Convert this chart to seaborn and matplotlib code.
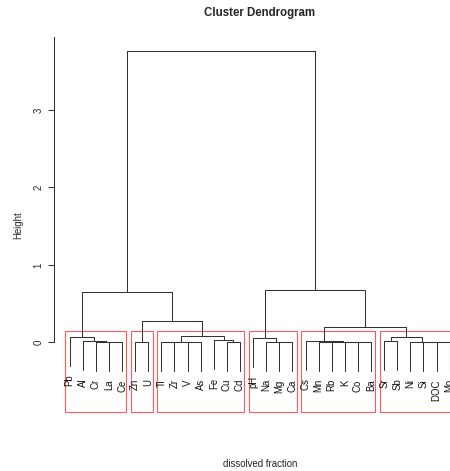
import numpy as np
import pandas as pd
import matplotlib
matplotlib.use("Agg")
import matplotlib.pyplot as plt
from matplotlib.patches import Rectangle
import seaborn as sns

# leaf order as drawn, left to right
labels = ["Pb", "Al", "Cr", "La", "Ce", "Zn", "U", "Ti", "Zr", "V", "As", "Fe", "Cu", "Cd",
          "pH", "Na", "Mg", "Ca", "Cs", "Mn", "Rb", "K", "Co", "Ba",
          "Sr", "Sb", "Ni", "Si", "DOC", "Mo"]

# merges: left child, right child (leaf name or earlier merge index), height
merge_left = ["La", "Cr", "Al", "Pb", "Zn", "Ti", "V", 5, "Cu", "Fe", 7, 4, 3,
              "Mg", "Na", "pH", "Mn", "K", 17, 16, "Cs", "Sr", "DOC", "Si", "Ni", 21, 20, 15, 12]
merge_right = ["Ce", 0, 1, 2, "U", "Zr", "As", 6, "Cd", 8, 9, 10, 11,
               "Ca", 13, 14, "Rb", "Co", "Ba", 18, 19, "Sb", "Mo", 22, 23, 24, 25, 26, 27]
merge_height = [0.002, 0.005, 0.012, 0.065, 0.008, 0.002, 0.003, 0.006, 0.010, 0.025, 0.085, 0.275, 0.646,
                0.002, 0.005, 0.052, 0.004, 0.002, 0.004, 0.006, 0.020, 0.020, 0.002, 0.004, 0.006,
                0.065, 0.200, 0.676, 3.760]

k = 6
hang = 0.1 * (max(merge_height) - min(merge_height))

# R plot.hclust style layout
pos = {name: i for i, name in enumerate(labels)}
mx, rows, leaf_y = [], [], {}
for m, (a, b, h) in enumerate(zip(merge_left, merge_right, merge_height)):
    pts = []
    for c in (a, b):
        if isinstance(c, str):
            x, y = pos[c], h - hang
            leaf_y[c] = y
        else:
            x, y = mx[c], merge_height[c]
        pts.append((x, y))
    mx.append((pts[0][0] + pts[1][0]) / 2)
    path = [pts[0], (pts[0][0], h), (pts[1][0], h), pts[1]]
    for j, (x, y) in enumerate(path):
        rows.append({"seg": m, "step": j, "x": x, "y": y})
seg_df = pd.DataFrame(rows)

sns.set_style("white")
plt.rcParams["font.family"] = ["Liberation Sans", "DejaVu Sans"]

fig = plt.figure(figsize=(4.5, 4.71), dpi=100)
ax = fig.add_axes([0.1211, 0.1246, 0.9118, 0.7962])

sns.lineplot(data=seg_df, x="x", y="y", units="seg", estimator=None, sort=False,
             color="#333333", linewidth=0.75, ax=ax, legend=False)

ymin, ymax = -0.904, 3.94
ax.set_xlim(-1.16, len(labels) - 1 + 1.16)
ax.set_ylim(ymin, ymax)

for name in labels:
    ax.annotate(name, (pos[name], leaf_y[name]), xytext=(0, -8), textcoords="offset pixels",
                rotation=90, ha="center", va="top", fontsize=6.9, color="#111111")

# rect.hclust boxes
hs = sorted(merge_height, reverse=True)
box_top = (hs[k - 2] + hs[k - 1]) / 2
cut = [m for m, h in enumerate(merge_height) if h < box_top]
parent = {}
for m, (a, b) in enumerate(zip(merge_left, merge_right)):
    parent[a] = m
    parent[b] = m

def root_below(c):
    while c in parent and parent[c] in cut:
        c = parent[c]
    return c

groups = []
for name in labels:
    r = root_below(name)
    if groups and groups[-1][0] == r:
        groups[-1][2] = pos[name]
    else:
        groups.append([r, pos[name], pos[name]])
for r, first, last in groups:
    ax.add_patch(Rectangle((first - 0.34, ymin), last - first + 0.67, box_top - ymin,
                           fill=False, edgecolor="#ff5a5a", linewidth=0.8, clip_on=False))

for s in ["top", "right", "bottom"]:
    ax.spines[s].set_visible(False)
ax.spines["left"].set_bounds(0, ymax)
ax.spines["left"].set_color("#333333")
ax.spines["left"].set_linewidth(0.75)
ax.set_xticks([])
ax.set_yticks([0, 1, 2, 3])
ax.set_yticklabels(["0", "1", "2", "3"], rotation=90, va="center")
ax.tick_params(axis="y", left=True, length=4.3, width=0.75, color="#333333",
               labelsize=6.9, pad=3.5)
ax.set_xlabel("")
ax.set_ylabel("")

fig.text(259.7 / 450, 1 - 13.3 / 471, "Cluster Dendrogram", ha="center", va="center",
         fontsize=8.3, fontweight="bold")
fig.text(259.7 / 450, 1 - 464 / 471, "dissolved fraction", ha="center", va="center", fontsize=6.9)
fig.text(18 / 450, 1 - 224.8 / 471, "Height", ha="center", va="center", rotation=90, fontsize=6.9)

fig.savefig("out.png", dpi=100)
